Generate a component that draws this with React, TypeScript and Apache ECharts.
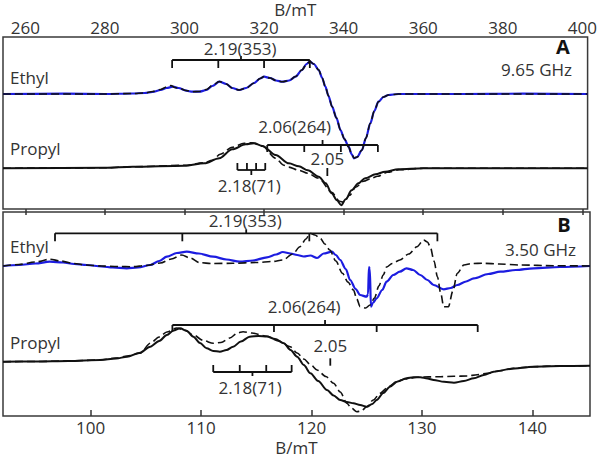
import React, { useEffect, useRef } from "react";
import * as echarts from "echarts";

// ---------- axis ticks ----------
const topTicks = [260, 280, 300, 320, 340, 360, 380, 400];
const bottomTicks = [100, 110, 120, 130, 140];

// ---------- Panel A (9.65 GHz): [B/mT, intensity] ----------
const ethylA = [[254.4,0],[270,0.3],[280,0],[287,0.5],[290,1],[292,2],[294,4],[295.5,6],[297.1,7.3],[298.5,6],[300.4,3.3],[302,2.3],[303.75,2.3],[305.5,4],[307,8],[308.75,12.3],[310.5,10],[312,6],[313.75,4],[315.5,6],[317.5,11],[319,15.5],[320,17.3],[321.5,16],[323,13.5],[324.6,12.3],[326.3,13.5],[327.9,17.3],[329.5,24],[330.7,30],[331.5,32.3],[332.5,30],[333.75,24],[334.6,16],[335.4,7.3],[336.2,-2],[337.1,-12.7],[338.2,-24],[339.2,-36],[340.2,-45],[341.25,-52.7],[342,-60],[342.6,-64.3],[343.4,-63],[344.6,-56],[345.6,-44],[346.7,-29.3],[347.7,-17],[348.75,-7.7],[350,-3],[351.25,-1],[353.75,0],[370,0],[385,0.3],[401.3,0]];
const ethylAFit = [[254.4,0],[270,0],[280,0],[287,0.5],[290,1],[292,2.5],[294,4.5],[295.5,7],[296.6,8.5],[297.6,6.5],[298.8,5.5],[300.4,3.5],[302,2.3],[303.75,2.5],[305.5,4.5],[307,8.5],[308.75,12.5],[310.5,10],[312,6],[313.75,4],[315.5,6],[317.5,11],[319,15.5],[320,17.5],[321.5,16],[323,13.5],[324.6,12.3],[326.3,13.5],[327.9,17.5],[329.5,24],[330.7,30],[331.5,32.5],[332.5,30],[333.75,24],[334.6,16],[335.4,7.3],[336.2,-2],[337.1,-12.7],[338.2,-24],[339.2,-36],[340.2,-45],[341.25,-53],[342,-60],[342.6,-64],[343.4,-63],[344.6,-56],[345.6,-44],[346.7,-29.3],[347.7,-17],[348.75,-7.7],[350,-3],[351.25,-1],[353.75,0],[370,0],[401.3,0]];
const propylA = [[254.4,0],[280,0.5],[287,1.5],[300,2.5],[305,5],[308.75,10],[312,19],[315.4,24],[317.5,25],[319.6,22.3],[322.9,13.3],[326.25,5],[328.75,2],[331,-2],[333.75,-8.4],[335.5,-15],[337,-25],[338.3,-32],[339.4,-37],[340.5,-31],[342,-22],[343.7,-15],[345.4,-10],[348,-6],[350.4,-3.4],[353.75,-1],[360,0],[401.3,0]];
const propylAFit = [[254.4,0],[280,0.5],[287,1.5],[300,3],[305,5.5],[307,8],[309,14],[312,21],[315,25],[317,25.6],[319.6,22],[322.9,10],[325,3],[326.25,1.2],[328.75,-2],[331,-5],[333.75,-10],[337,-24],[339,-33],[340,-34],[341.5,-27],[343,-19],[345,-13],[347,-10],[348.5,-8],[351,-4],[354,-1.5],[360,0],[401.3,0]];

// ---------- Panel B (3.50 GHz): [B/mT, intensity] ----------
const ethylB = [[92.06,0],[93.5,1],[95,2.5],[96.3,4.3],[97.5,3.5],[98.5,2],[99.64,1],[101,-0.5],[102,-1.5],[103.26,-2.3],[104.3,-1.5],[105.4,1],[106.2,5],[106.9,9.3],[107.8,13],[108.7,14.3],[109.8,12.5],[111.1,9.3],[112.3,6.5],[113.5,4.3],[114.7,5.5],[115.96,8.7],[116.8,11.5],[117.4,14],[118.1,12.5],[118.7,11],[119.3,9.5],[119.9,10.5],[120.5,8],[121.1,12.5],[121.85,14.3],[122.2,11],[122.6,6],[123.1,-3],[123.5,-14],[124,-23],[124.4,-29],[125.0,-30.7],[125.12,-28],[125.2,-1],[125.28,-3],[125.38,-40.7],[125.55,-37],[125.9,-32.3],[126.4,-24],[126.8,-15.7],[127.4,-9],[128.0,-5.7],[128.6,-2.3],[129.2,-4],[129.85,-9],[130.5,-14],[131.06,-19],[131.97,-23.3],[132.6,-22],[133.2,-19],[134.0,-15.5],[134.7,-12.3],[136,-8],[137.1,-5.7],[138.5,-4],[140.1,-2.3],[142.5,-1],[145.22,0]];
const ethylBFit = [[92.06,0],[93.5,1.5],[95,4],[96.3,6.7],[97.3,5],[98.5,2.5],[99.6,1],[101,0],[102.5,-0.5],[103.8,-0.7],[105,0.5],[106.3,3],[107.3,7],[108.25,11],[109,8],[109.9,3.3],[111,2.5],[112.9,2.7],[115,3.5],[116.5,4.5],[117.4,6],[118.3,12],[118.95,19.3],[119.5,27],[119.85,32.7],[120.3,31],[120.8,27.7],[121.2,22],[121.65,16],[122.2,5],[122.8,-7.3],[123.3,-16],[123.8,-24],[124.1,-33],[124.4,-40.7],[124.9,-42],[125.3,-39],[125.7,-32],[126.1,-20],[126.5,-9],[126.8,-1],[127.3,2.5],[128.0,6],[128.8,12],[129.55,19.3],[130.15,26],[130.5,24],[130.75,19.3],[131.1,5],[131.4,-10.7],[131.7,-27],[131.97,-40.7],[132.4,-40.7],[132.8,-25],[133.2,-7.3],[133.8,1],[134.5,2.5],[135.6,2.7],[137,2],[138.9,1],[142,0.3],[145.22,0]];
const propylB = [[92.06,0.3],[95,0.5],[98,1],[100.84,2],[102.3,3.5],[103.3,5.3],[104.4,9],[105.4,15.3],[106.2,21],[106.9,27],[107.5,31.5],[108.1,33.7],[108.7,31],[109.3,25.3],[109.9,19],[110.5,13.7],[111.1,11],[111.7,10.3],[112.3,12],[112.9,15.3],[113.6,20.5],[114.4,25.3],[115.2,26],[115.96,25.5],[116.7,23],[117.5,18.7],[118.1,12],[118.7,5.3],[119.3,-3],[119.9,-11.3],[120.6,-19],[121.4,-28],[122,-33.5],[122.6,-38],[123.2,-40],[123.8,-41.3],[124.4,-43],[125.0,-44.7],[125.5,-42],[125.9,-38],[126.5,-31],[127.1,-24.7],[127.8,-19.5],[128.6,-16.3],[129.2,-15.3],[129.85,-15.3],[130.5,-16.5],[131.06,-18],[132,-19.8],[132.9,-20.7],[133.8,-19],[134.7,-16.3],[135.6,-13],[136.5,-9.7],[138,-7],[140.1,-4.7],[142.5,-4],[145.22,-3.7]];
const propylBFit = [[92.06,0.3],[95,0.5],[98,1],[100.84,2],[102.3,4],[103.3,6],[104.5,9],[105.4,18.7],[106.2,25],[106.9,30],[107.8,34],[108.5,32],[109.3,27],[110.2,21.5],[111.1,18.7],[111.8,19.5],[112.6,24],[113.3,29],[113.8,30.3],[114.6,29],[115.96,25.7],[117,21],[118.07,15.3],[118.7,9],[119.3,3],[119.9,-2.5],[120.5,-8],[121.3,-14.5],[122.0,-21.3],[122.6,-30],[123.2,-41.3],[123.6,-46],[124.1,-49.7],[124.5,-49],[125.0,-44.7],[125.6,-38],[126.2,-31.3],[127,-24.5],[127.7,-19.7],[128.5,-17],[129.55,-15.3],[130.6,-14.9],[131.7,-14.7],[132.9,-14.3],[134.1,-14],[135,-12.8],[135.9,-11.3],[137,-8.8],[138.3,-6.3],[140,-4.7],[142.5,-4],[145.22,-3.7]];

// ---------- stick diagrams (field positions, mT) ----------
const ethylASticks = [296.9, 308.5, 320.0, 331.5];      // 2.19(353)
const propylAGSticks = [320.8, 330.1, 339.3, 348.6];    // 2.06(264)
const propylACSticks = [313.3, 315.7, 318.0, 320.3];    // 2.18(71)
const propylAMarker = 335.9;                             // 2.05
const ethylBSticks = [96.77, 108.3, 119.8, 131.4];      // 2.19(353)
const propylBGSticks = [107.4, 116.6, 125.9, 135.05];   // 2.06(264)
const propylBCSticks = [111.1, 113.5, 115.9, 118.2];    // 2.18(71)
const propylBMarker = 121.7;                             // 2.05

// ---------- layout (offsets in axis units) ----------
const A_H = 172;
const B_H = 204;
const ETHYL_A_BASE = 115;
const PROPYL_A_BASE = 40.7;
const ETHYL_B_BASE = 150;
const PROPYL_B_BASE = 54;

const BLUE = "#1c1ce0";
const BLACK = "#111111";
const TXT = "#333333";
const FONT = "Open Sans";
const FS = 17;

function shift(data: number[][], base: number) {
  return data.map((d) => [d[0], d[1] + base]);
}

function lineSeries(idx: number, data: number[][], base: number, color: string, dashed: boolean, width: number) {
  return {
    type: "line",
    xAxisIndex: idx,
    yAxisIndex: idx,
    data: shift(data, base),
    showSymbol: false,
    symbol: "none",
    smooth: 0.3,
    smoothMonotone: "x",
    silent: true,
    lineStyle: { color, width, type: dashed ? [8, 4] : "solid", cap: "butt", join: "round" },
  };
}

function bracket(idx: number, pos: number[], level: number, dir: number, tickLen: number, centerLen: number,
                 label: string, labelB: number, labelLevel: number) {
  return {
    type: "custom",
    xAxisIndex: idx,
    yAxisIndex: idx,
    silent: true,
    z: 5,
    data: [[pos[0], level]],
    renderItem: (params: any, api: any) => {
      const pts = pos.map((b) => api.coord([b, level]));
      const y = pts[0][1];
      const st = { stroke: BLACK, lineWidth: 1.8, fill: null };
      const children: any[] = [];
      children.push({ type: "line", shape: { x1: pts[0][0], y1: y, x2: pts[pts.length - 1][0], y2: y }, style: st });
      pts.forEach((p: number[]) => {
        children.push({ type: "line", shape: { x1: p[0], y1: y, x2: p[0], y2: y + dir * tickLen }, style: st });
      });
      const cx = (pts[0][0] + pts[pts.length - 1][0]) / 2;
      children.push({ type: "line", shape: { x1: cx, y1: y, x2: cx, y2: y - dir * centerLen }, style: st });
      const lp = api.coord([labelB, labelLevel]);
      children.push({
        type: "text", x: lp[0], y: lp[1],
        style: { text: label, fill: TXT, fontSize: FS, fontFamily: FONT, align: "center", verticalAlign: "middle", textAlign: "center", textVerticalAlign: "middle" },
      });
      return { type: "group", children };
    },
  };
}

function marker(idx: number, b: number, labelLevel: number, tickTop: number, tickBottom: number) {
  return {
    type: "custom",
    xAxisIndex: idx,
    yAxisIndex: idx,
    silent: true,
    z: 5,
    data: [[b, labelLevel]],
    renderItem: (params: any, api: any) => {
      const lp = api.coord([b, labelLevel]);
      const t1 = api.coord([b, tickTop]);
      const t2 = api.coord([b, tickBottom]);
      return {
        type: "group",
        children: [
          { type: "line", shape: { x1: t1[0], y1: t1[1], x2: t2[0], y2: t2[1] }, style: { stroke: BLACK, lineWidth: 1.8 } },
          { type: "text", x: lp[0], y: lp[1], style: { text: "2.05", fill: TXT, fontSize: FS, fontFamily: FONT, align: "center", verticalAlign: "middle", textAlign: "center", textVerticalAlign: "middle" } },
        ],
      };
    },
  };
}

function txt(x: number, y: number, text: string, align: string, size = FS, weight = "normal", color = TXT) {
  return {
    type: "text", x, y, silent: true,
    style: { text, fill: color, fontSize: size, fontWeight: weight, fontFamily: FONT, align, verticalAlign: "middle", textAlign: align, textVerticalAlign: "middle" },
  };
}

export default function App() {
  const ref = useRef<HTMLDivElement>(null);
  useEffect(() => {
    if (!ref.current) return;
    const chart = echarts.init(ref.current, undefined, { renderer: "svg" });
    const gridStyle = { show: true, borderColor: "#3a3a3a", borderWidth: 1.5, backgroundColor: "transparent" };
    const option: any = {
      animation: false,
      grid: [
        { left: 3, top: 37, width: 587, height: A_H, ...gridStyle },
        { left: 3, top: 212, width: 587, height: B_H, ...gridStyle },
      ],
      xAxis: [
        {
          gridIndex: 0, type: "value", position: "top", min: 254.4, max: 401.3,
          name: "B/mT", nameLocation: "middle", nameGap: 17,
          nameTextStyle: { fontSize: FS, fontFamily: FONT, color: TXT, lineHeight: 17 },
          axisLine: { show: false },
          axisTick: { show: true, inside: true, length: 6, customValues: topTicks, lineStyle: { color: "#333", width: 1.5 } },
          axisLabel: { show: true, customValues: topTicks, fontSize: FS, fontFamily: FONT, color: TXT, margin: 1 },
          splitLine: { show: false },
        },
        {
          gridIndex: 1, type: "value", position: "bottom", min: 92.06, max: 145.22,
          name: "B/mT", nameLocation: "middle", nameGap: 23,
          nameTextStyle: { fontSize: FS, fontFamily: FONT, color: TXT, lineHeight: 17 },
          axisLine: { show: false },
          axisTick: { show: true, inside: true, length: 6, customValues: bottomTicks, lineStyle: { color: "#333", width: 1.5 } },
          axisLabel: { show: true, customValues: bottomTicks, fontSize: FS, fontFamily: FONT, color: TXT, margin: 3 },
          splitLine: { show: false },
        },
      ],
      yAxis: [
        { gridIndex: 0, type: "value", min: 0, max: A_H, show: false },
        { gridIndex: 1, type: "value", min: 0, max: B_H, show: false },
      ],
      series: [
        lineSeries(0, ethylA, ETHYL_A_BASE, BLUE, false, 2.2),
        lineSeries(0, ethylAFit, ETHYL_A_BASE, BLACK, true, 1.6),
        lineSeries(0, propylA, PROPYL_A_BASE, BLACK, false, 2),
        lineSeries(0, propylAFit, PROPYL_A_BASE, BLACK, true, 1.6),
        lineSeries(1, ethylB, ETHYL_B_BASE, BLUE, false, 2.2),
        lineSeries(1, ethylBFit, ETHYL_B_BASE, BLACK, true, 1.6),
        lineSeries(1, propylB, PROPYL_B_BASE, BLACK, false, 2),
        lineSeries(1, propylBFit, PROPYL_B_BASE, BLACK, true, 1.6),
        bracket(0, ethylASticks, 149, 1, 8, 4, "2.19(353)", 314.0, 160.5),
        bracket(0, propylAGSticks, 64, 1, 7, 5, "2.06(264)", 327.7, 82.3),
        bracket(0, propylACSticks, 39, -1, 7, 5, "2.18(71)", 316.3, 24),
        marker(0, propylAMarker, 51, 41, 33),
        bracket(1, ethylBSticks, 182.7, 1, 8, 4, "2.19(353)", 114.0, 196),
        bracket(1, propylBGSticks, 91, 1, 7, 5, "2.06(264)", 119.34, 109.3),
        bracket(1, propylBCSticks, 44, -1, 7, 4, "2.18(71)", 114.44, 28.7),
        marker(1, propylBMarker, 71, 57.7, 50.3),
      ],
      graphic: [
        txt(10, 77, "Ethyl", "left"),
        txt(10, 148, "Propyl", "left"),
        txt(563, 46.5, "A", "center", 20, "bold", "#111"),
        txt(572, 69, "9.65 GHz", "right"),
        txt(10, 246.7, "Ethyl", "left"),
        txt(10, 342.7, "Propyl", "left"),
        txt(564, 224.5, "B", "center", 20, "bold", "#111"),
        txt(576, 249, "3.50 GHz", "right"),
      ],
    };
    chart.setOption(option);
    return () => chart.dispose();
  }, []);
  return <div ref={ref} style={{ position: "absolute", left: 0, top: 0, width: 600, height: 457 }} />;
}
